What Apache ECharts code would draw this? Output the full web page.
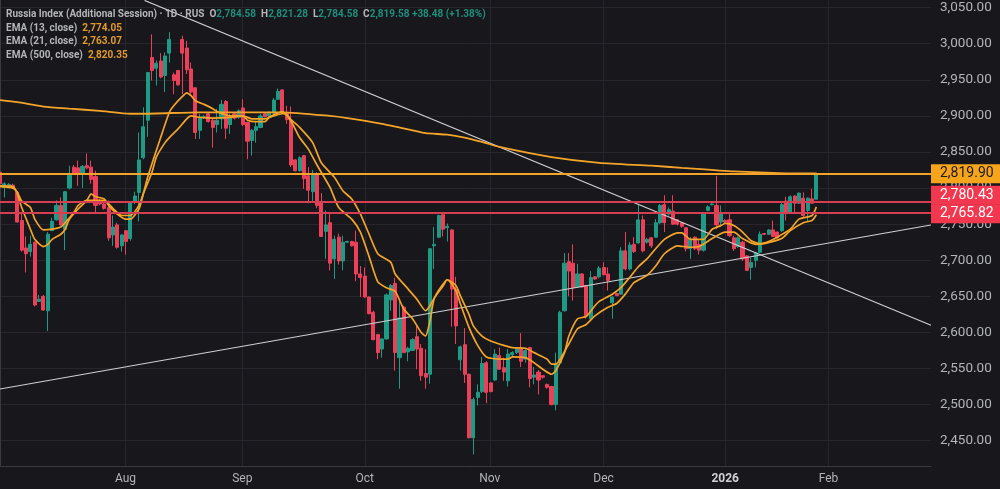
<!DOCTYPE html>
<html lang="en">
<head>
    <meta charset="UTF-8">
    <title>Russia Index</title>
    <style>
        html, body { margin: 0; padding: 0; background: #17171c; }
    </style>
</head>
<body>
<script src="https://cdn.jsdelivr.net/npm/echarts@6/dist/echarts.min.js"></script>

<div id="main" style="width:1000px;height:489px;"></div>

<script type="text/javascript">

    // one row per session: open, close, low, high
    var ohlc = [
        [2822,2806,2803,2825],[2801,2806,2787,2808],[2803,2805,2800,2807],[2804,2801,2799,2806],
        [2794,2753,2752,2796],[2755,2714,2712,2764],[2717,2709,2683,2733],[2712,2722,2705,2734],
        [2725,2638,2636,2726],[2643,2646,2642,2652],[2650,2631,2630,2652],[2630,2736,2602,2739],
        [2741,2754,2741,2759],[2756,2776,2755,2783],[2776,2749,2748,2787],[2743,2795,2714,2796],
        [2800,2818,2798,2831],[2829,2821,2819,2832],[2828,2820,2803,2838],[2820,2830,2800,2832],
        [2831,2828,2826,2848],[2829,2812,2806,2838],[2816,2776,2764,2824],[2782,2778,2776,2785],
        [2778,2772,2770,2780],[2773,2731,2727,2783],[2735,2746,2720,2762],[2749,2718,2716,2752],
        [2720,2735,2712,2736],[2741,2726,2708,2741],[2730,2780,2727,2780],[2781,2789,2778,2795],
        [2794,2839,2754,2877],[2842,2885,2840,2912],[2894,2960,2871,2960],[2981,2963,2949,3013],
        [2966,2973,2942,2977],[2976,2954,2952,2987],[2956,2983,2933,2988],[2987,3006,2974,3016],
        [2957,2949,2930,2960],[2963,2943,2942,2963],[3006,2987,2930,3011],[2994,2964,2958,3004],
        [2965,2933,2930,2974],[2939,2877,2868,2939],[2880,2898,2868,2903],[2898,2899,2896,2901],
        [2903,2892,2891,2905],[2894,2884,2856,2896],[2888,2894,2877,2910],[2896,2916,2882,2922],
        [2920,2883,2868,2922],[2888,2898,2875,2903],[2903,2897,2895,2905],[2898,2907,2896,2909],
        [2911,2888,2886,2923],[2891,2865,2840,2892],[2866,2880,2845,2882],[2880,2885,2863,2892],
        [2884,2900,2883,2903],[2903,2899,2898,2905],[2900,2905,2898,2906],[2904,2922,2902,2925],
        [2923,2934,2922,2938],[2936,2904,2903,2937],[2905,2895,2889,2914],[2894,2832,2829,2913],
        [2839,2824,2823,2840],[2824,2842,2823,2844],[2845,2813,2799,2846],[2817,2797,2779,2829],
        [2795,2819,2780,2825],[2820,2776,2772,2822],[2780,2733,2732,2793],[2740,2749,2702,2769],
        [2752,2696,2686,2766],[2702,2729,2674,2734],[2732,2699,2694,2737],[2699,2725,2686,2734],
        [2725,2726,2724,2727],[2726,2720,2719,2727],[2725,2681,2671,2741],[2681,2676,2649,2692],
        [2678,2649,2648,2690],[2649,2626,2625,2650],[2628,2590,2589,2630],[2597,2572,2563,2598],
        [2577,2591,2565,2592],[2591,2652,2590,2654],[2645,2665,2630,2667],[2668,2572,2547,2676],
        [2565,2620,2522,2646],[2635,2572,2572,2637],[2573,2578,2560,2580],[2575,2590,2575,2592],
        [2594,2577,2549,2609],[2578,2540,2533,2584],[2543,2538,2522,2577],[2542,2716,2529,2716],
        [2720,2722,2688,2746],[2732,2762,2731,2763],[2763,2743,2733,2764],[2745,2747,2726,2751],
        [2742,2660,2608,2743],[2660,2609,2584,2677],[2562,2580,2547,2582],[2583,2542,2530,2606],
        [2542,2454,2453,2543],[2454,2507,2431,2510],[2510,2517,2499,2528],[2518,2557,2516,2566],
        [2558,2517,2502,2560],[2530,2518,2517,2531],[2534,2570,2533,2577],[2568,2549,2548,2579],
        [2551,2545,2533,2565],[2533,2570,2525,2577],[2569,2572,2566,2574],[2572,2577,2570,2578],
        [2578,2560,2552,2599],[2563,2575,2558,2578],[2579,2536,2524,2580],[2538,2541,2528,2552],
        [2545,2534,2514,2548],[2540,2538,2536,2541],[2528,2524,2522,2529],[2525,2500,2499,2526],
        [2500,2556,2492,2572],[2558,2628,2557,2630],[2630,2696,2629,2710],[2698,2685,2650,2710],
        [2696,2662,2644,2722],[2663,2681,2663,2695],[2681,2663,2662,2682],[2665,2623,2619,2666],
        [2619,2676,2618,2685],[2677,2674,2673,2678],[2677,2689,2675,2692],[2690,2680,2679,2697],
        [2681,2672,2658,2690],[2641,2649,2619,2650],[2654,2651,2650,2655],[2653,2713,2652,2718],
        [2713,2688,2686,2739],[2688,2721,2686,2725],[2722,2712,2710,2732],[2724,2756,2723,2778],
        [2756,2713,2711,2762],[2725,2729,2723,2731],[2731,2720,2717,2732],[2732,2752,2731,2757],
        [2752,2776,2750,2778],[2777,2752,2739,2790],[2764,2770,2762,2773],[2768,2750,2749,2790],
        [2756,2750,2748,2757],[2752,2747,2745,2753],[2745,2716,2712,2746],[2716,2729,2702,2732],
        [2732,2716,2714,2733],[2722,2714,2708,2729],[2714,2766,2712,2767],[2769,2774,2768,2776],
        [2777,2778,2776,2779],[2776,2749,2743,2817],[2753,2765,2748,2776],[2755,2753,2751,2757],
        [2756,2734,2732,2764],[2731,2716,2713,2734],[2719,2731,2717,2733],[2725,2702,2699,2727],
        [2706,2686,2685,2707],[2690,2697,2673,2704],[2700,2710,2690,2711],[2711,2736,2710,2740],
        [2737,2736,2735,2738],[2736,2742,2735,2743],[2742,2733,2732,2755],[2739,2731,2730,2740],
        [2741,2777,2739,2780],[2782,2766,2755,2788],[2766,2788,2764,2790],[2789,2779,2764,2790],
        [2779,2793,2778,2794],[2786,2762,2759,2794],[2769,2786,2754,2787],[2785,2779,2778,2799],
        [2784.58,2819.58,2784.58,2821.28]
    ];

    // as [session, value]
    var ema13 = [[0,2803],[3,2802],[4,2792],[5,2773],[7,2743],[8,2729],[10,2719],[11,2722],[12,2729],[14,2736],
        [15,2743],[16,2757],[18,2771],[20,2783],[21,2792],[22,2788],[24,2785],[25,2776],[27,2764],[29,2757],
        [30,2757],[32,2771],[33,2792],[34,2815],[37,2870],[39,2905],[40,2914],[42,2927],[43,2932],[44,2928],
        [45,2921],[47,2916],[49,2910],[50,2906],[53,2900],[56,2900],[57,2894],[59,2892],[61,2892],[62,2898],
        [64,2904],[65,2906],[67,2893],[69,2870],[71,2854],[73,2832],[76,2801],[78,2773],[81,2757],[83,2739],
        [85,2705],[87,2670],[89,2662],[91,2657],[93,2632],[95,2619],[97,2600],[98,2595],[99,2615],[100,2647],
        [102,2664],[103,2673],[105,2658],[106,2640],[108,2607],[110,2582],[112,2566],[115,2563],[117,2563],
        [118,2566],[121,2565],[123,2558],[125,2549],[127,2542],[128,2547],[130,2572],[131,2595],[133,2619],
        [135,2622],[137,2637],[138,2643],[141,2653],[143,2662],[145,2676],[147,2691],[149,2702],[151,2716],
        [153,2729],[156,2738],[157,2738],[159,2729],[162,2729],[164,2743],[166,2748],[167,2751],[169,2748],
        [171,2739],[173,2727],[175,2723],[177,2726],[179,2732],[182,2743],[184,2757],[187,2762],[188,2774]];
    var ema21 = [[0,2802],[3,2800],[4,2794],[5,2782],[7,2773],[8,2757],[10,2742],[12,2743],[14,2746],[15,2752],
        [17,2766],[18,2776],[20,2783],[22,2783],[24,2783],[26,2772],[28,2762],[30,2762],[32,2776],[33,2792],
        [35,2822],[36,2843],[38,2863],[39,2870],[41,2882],[43,2896],[44,2900],[46,2898],[49,2897],[53,2898],
        [56,2900],[58,2896],[61,2896],[63,2900],[65,2903],[66,2902],[67,2895],[69,2884],[72,2863],[74,2835],
        [77,2815],[79,2796],[81,2785],[83,2764],[85,2736],[87,2709],[90,2697],[91,2681],[94,2660],[96,2646],
        [98,2630],[99,2637],[101,2658],[103,2673],[105,2665],[106,2651],[108,2625],[109,2609],[111,2595],
        [113,2588],[116,2582],[118,2579],[121,2578],[123,2572],[126,2563],[127,2556],[128,2556],[129,2563],
        [131,2584],[133,2605],[135,2611],[137,2623],[140,2635],[142,2640],[144,2653],[146,2669],[149,2679],
        [151,2692],[153,2709],[156,2720],[159,2718],[161,2719],[164,2730],[167,2739],[169,2739],[171,2730],
        [174,2722],[176,2723],[180,2730],[182,2741],[185,2752],[187,2755],[188,2763]];
    var ema500 = [[0,2922],[4,2919],[10,2913],[16,2910],[23,2907],[30,2903],[33,2903],[46,2905],[65,2905],
        [76,2900],[80,2897],[88,2889],[95,2880],[98,2876],[103,2874],[107,2870],[111,2864],[115,2857],
        [127,2843],[138,2835],[150,2831],[157,2828],[169,2823],[181,2820.5],[188,2820.35]];

    var fallingLine = [[33.3,3060],[214.4,2610]];
    var risingLine = [[0,2521.6],[214.4,2748.8]];

    var priceTicks = [2450,2500,2550,2600,2650,2700,2750,2800,2850,2900,2950,3000,3050];
    var monthTicks = [28.9,55.8,84,112.8,139,167,190.8];
    var monthNames = ['Aug','Sep','Oct','Nov','Dec','2026','Feb'];

    var orangeLevel = 2819.90;
    var redLevels = [2780.43, 2765.82];

    var bg = '#17171c', gridCol = '#26262c', borderCol = '#3a3a40', textCol = '#b4b5b9';
    var green = '#1f9a85', red = '#ea405a', orange = '#f4a529', redLine = '#d63f52';

    function money(v) {
        return v.toFixed(2).replace(/\B(?=(\d{3})+(?!\d))/g, ',');
    }

    function tag(value, color, fill, textColor, shift) {
        return {
            yAxis: value,
            lineStyle: {color: color, width: 2, type: 'solid'},
            label: {
                show: true,
                position: 'end',
                distance: 0,
                offset: [0, shift],
                formatter: money(value),
                color: textColor,
                backgroundColor: fill,
                fontFamily: 'Roboto',
                fontSize: 14,
                lineHeight: 14,
                padding: [2.5, 16, 2.5, 9]
            }
        };
    }

    function lineSeries(name, data, color, width, smooth) {
        return {
            name: name,
            type: 'line',
            data: data,
            symbol: 'none',
            smooth: smooth,
            z: 4,
            silent: true,
            lineStyle: {color: color, width: width},
            animation: false
        };
    }

    var header = '{t|Russia Index (Additional Session) · 1D · RUS} {t|O}{g|2,784.58} {t|H}{g|2,821.28} {t|L}{g|2,784.58} {t|C}{g|2,819.58 +38.48 (+1.38%)}';

    function legendLine(top, label, value) {
        return {
            left: 6,
            top: top,
            padding: 0,
            text: '{t|' + label + '} {o|' + value + '}',
            textStyle: {
                rich: {
                    t: {color: textCol, fontFamily: 'Roboto', fontSize: 10},
                    o: {color: '#e39a2b', fontFamily: 'Roboto', fontSize: 10}
                }
            }
        };
    }

    var option = {
        backgroundColor: bg,
        animation: false,
        title: [{
            left: 6,
            top: 5,
            padding: 0,
            text: header,
            textStyle: {
                rich: {
                    t: {color: textCol, fontFamily: 'Roboto', fontSize: 10},
                    g: {color: '#1f8f7c', fontFamily: 'Roboto', fontSize: 10}
                }
            }
        },
            legendLine(19, 'EMA (13, close)', '2,774.05'),
            legendLine(32, 'EMA (21, close)', '2,763.07'),
            legendLine(46, 'EMA (500, close)', '2,820.35')
        ],
        grid: {left: 0, right: 69, top: 0, bottom: 23},
        xAxis: {
            type: 'value',
            min: 0,
            max: 214.4,
            axisLine: {lineStyle: {color: borderCol}},
            axisTick: {show: false, customValues: monthTicks},
            axisLabel: {
                customValues: monthTicks,
                margin: 7,
                color: textCol,
                fontFamily: 'Roboto',
                fontSize: 12,
                formatter: function (val) {
                    var name = monthNames[monthTicks.indexOf(val)];
                    return name === '2026' ? '{b|2026}' : name;
                },
                rich: {b: {color: '#d0d0d4', fontFamily: 'Roboto', fontSize: 12, fontWeight: 'bold'}}
            },
            splitLine: {show: true, lineStyle: {color: gridCol}}
        },
        yAxis: {
            type: 'value',
            position: 'right',
            min: 2414.9,
            max: 3060.6,
            axisLine: {show: true, lineStyle: {color: borderCol}},
            axisTick: {show: false, customValues: priceTicks},
            axisLabel: {
                customValues: priceTicks,
                margin: 9,
                color: textCol,
                fontFamily: 'Roboto',
                fontSize: 13.5,
                formatter: money
            },
            splitLine: {show: true, lineStyle: {color: gridCol}}
        },
        series: [{
            name: 'Russia Index',
            type: 'candlestick',
            data: ohlc.map(function (row, idx) { return [idx].concat(row); }),
            encode: {x: 0, y: [1, 2, 3, 4]},
            barWidth: 3.6,
            z: 2,
            silent: true,
            itemStyle: {
                color: green,
                color0: red,
                borderColor: green,
                borderColor0: red,
                borderWidth: 1
            }
        },
            lineSeries('falling', fallingLine, '#d0d0d4', 1.1, false),
            lineSeries('rising', risingLine, '#d0d0d4', 1.1, false),
            lineSeries('EMA 13', ema13, orange, 1.7, 0.2),
            lineSeries('EMA 21', ema21, orange, 1.7, 0.2),
            lineSeries('EMA 500', ema500, orange, 1.8, 0.2),
            {
                name: 'levels',
                type: 'line',
                data: [],
                silent: true,
                z: 5,
                markLine: {
                    symbol: 'none',
                    silent: true,
                    animation: false,
                    data: [
                        tag(orangeLevel, orange, '#f7a41d', '#1a1a1d', 0),
                        tag(redLevels[0], redLine, '#f1384f', '#ffffff', -7),
                        tag(redLevels[1], redLine, '#f1384f', '#ffffff', 1)
                    ]
                }
            }
        ]
    };

    var myChart = echarts.init(document.getElementById('main'));
    myChart.setOption(option);
</script>
</body>
</html>
